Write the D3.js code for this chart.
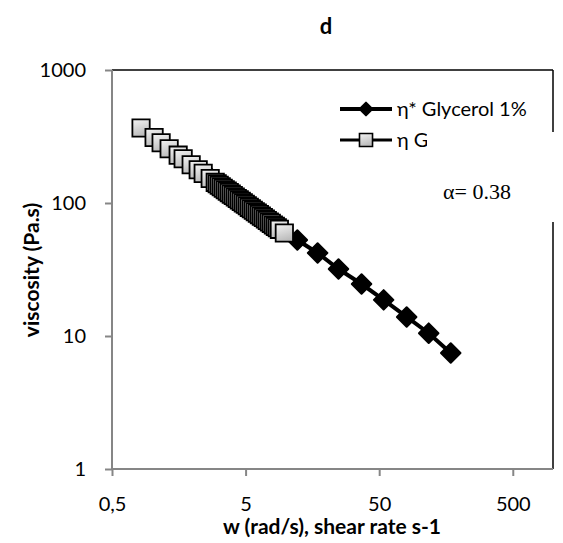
<!DOCTYPE html>
<html>
<head>
<meta charset="utf-8">
<script src="https://cdn.jsdelivr.net/npm/d3@7"></script>
<style>
  body { margin: 0; background: #fff; }
  svg text { font-family: Lato, "Noto Sans", sans-serif; }
</style>
</head>
<body>
<div id="chart-area"></div>
<script>
// eta* Glycerol 1% (black diamonds)
let diamondX = [2.63, 3.86, 5.66, 8.3, 12.2, 17.3, 24.8, 36.9, 54.0, 80.3, 117.4, 171.6];
let diamondY = [162, 122.6, 92.5, 69.9, 52.7, 42.1, 31.9, 24.6, 18.7, 13.9, 10.5, 7.45];

// eta Glycerol 1% (grey squares)
let squareX = [0.825, 1.033, 1.166, 1.339, 1.564, 1.705, 1.957, 2.209, 2.408, 2.717, 2.963,
    3.067, 3.175, 3.287, 3.402, 3.522, 3.646, 3.774, 3.906, 4.044, 4.186, 4.333, 4.485,
    4.643, 4.806, 4.975, 5.15, 5.33, 5.52, 5.71, 5.91, 6.12, 6.34, 6.56, 6.79, 7.03,
    7.27, 7.53, 7.79, 8.07, 8.35, 8.64, 8.95, 9.75];
let squareY = [366, 311, 284, 256, 229, 215, 194, 178, 167, 153, 143,
    139.5, 135.9, 132.6, 129.2, 125.9, 122.9, 119.7, 116.7, 113.9, 110.9, 108.1, 105.5,
    102.8, 100.2, 97.8, 95.3, 92.8, 90.6, 88.3, 86.0, 84.0, 81.8, 79.7, 77.8, 75.8,
    73.9, 72.0, 70.3, 68.4, 66.7, 65.1, 63.4, 59.5];

let xTicks = [0.5, 5, 50, 500];
let yTicks = [1, 10, 100, 1000];
let seriesNames = ["η* Glycerol 1%", "η Glycerol 1%"];

let W = 563, H = 543;
let margin = {top: 70, right: 10, bottom: 74, left: 112};
let width = W - margin.left - margin.right;
let height = H - margin.top - margin.bottom;

let svg = d3.select("#chart-area").append("svg")
    .attr("width", W)
    .attr("height", H);

let defs = svg.append("defs");
let grad = defs.append("linearGradient")
    .attr("id", "sqfill")
    .attr("x1", 0).attr("y1", 0).attr("x2", 0.3).attr("y2", 1);
grad.append("stop").attr("offset", "0%").attr("stop-color", "#f4f4f4");
grad.append("stop").attr("offset", "100%").attr("stop-color", "#bcbcbc");

let g = svg.append("g")
    .attr("transform", "translate(" + margin.left + "," + margin.top + ")");

let xScale = d3.scaleLog().domain([0.5, 1000]).range([0, width]);
let yScale = d3.scaleLog().domain([1, 1000]).range([height, 0]);

// top and right border
g.append("line").attr("x1", 0).attr("x2", width).attr("y1", 0).attr("y2", 0)
    .attr("stroke", "#000").attr("stroke-width", 1.5);
g.append("line").attr("x1", width).attr("x2", width).attr("y1", 0).attr("y2", height)
    .attr("stroke", "#000").attr("stroke-width", 1.5);

let xAxis = d3.axisBottom(xScale)
    .tickValues(xTicks)
    .tickSize(7)
    .tickPadding(21)
    .tickFormat(d => d === 0.5 ? "0,5" : d);

let yAxis = d3.axisLeft(yScale)
    .tickValues(yTicks)
    .tickSize(7)
    .tickPadding(19)
    .tickFormat(d3.format("d"));

let gx = g.append("g")
    .attr("transform", "translate(0," + height + ")")
    .call(xAxis);
let gy = g.append("g").call(yAxis);

[gx, gy].forEach(a => {
    a.select(".domain").attr("stroke", "#868686").attr("stroke-width", 2);
    a.selectAll(".tick line").attr("stroke", "#868686").attr("stroke-width", 2);
    a.selectAll(".tick text").attr("fill", "#000").style("font-size", "20px");
});
gx.select(".domain").attr("d", "M0,0H" + width);
gy.select(".domain").attr("d", "M0," + height + "V0");

let line = d3.line()
    .x(d => xScale(d[0]))
    .y(d => yScale(d[1]));

let diamonds = diamondX.map((x, i) => [x, diamondY[i]]);
let squares = squareX.map((x, i) => [x, squareY[i]]);

let diamondPath = d3.symbol().type(d3.symbolSquare).size(190)();
let squarePath = d3.symbol().type(d3.symbolSquare).size(300)();

// series 1: diamonds
g.append("path")
    .datum(diamonds)
    .attr("fill", "none")
    .attr("stroke", "#000")
    .attr("stroke-width", 4)
    .attr("d", line);

g.selectAll(".dia")
    .data(diamonds)
    .enter().append("path")
    .attr("class", "dia")
    .attr("d", diamondPath)
    .attr("transform", d => "translate(" + xScale(d[0]) + "," + yScale(d[1]) + ") rotate(45)")
    .attr("fill", "#000")
    .attr("stroke", "#000")
    .attr("stroke-width", 2)
    .attr("stroke-linejoin", "round");

// series 2: squares
g.append("path")
    .datum(squares)
    .attr("fill", "none")
    .attr("stroke", "#000")
    .attr("stroke-width", 3)
    .attr("d", line);

g.selectAll(".sq")
    .data(squares)
    .enter().append("path")
    .attr("class", "sq")
    .attr("d", squarePath)
    .attr("transform", d => "translate(" + xScale(d[0]) + "," + yScale(d[1]) + ")")
    .attr("fill", "url(#sqfill)")
    .attr("stroke", "#000")
    .attr("stroke-width", 1.8);

// legend
let legend = svg.append("g").attr("transform", "translate(340,109)");
legend.append("line").attr("x1", 0).attr("x2", 52).attr("y1", 0).attr("y2", 0)
    .attr("stroke", "#000").attr("stroke-width", 4);
legend.append("path")
    .attr("d", d3.symbol().type(d3.symbolSquare).size(80)())
    .attr("transform", "translate(26,0) rotate(45)")
    .attr("fill", "#000").attr("stroke", "#000").attr("stroke-width", 2)
    .attr("stroke-linejoin", "round");
legend.append("text").attr("x", 57).attr("y", 6.5)
    .style("font-size", "20px").text(seriesNames[0]);

legend.append("line").attr("x1", 0).attr("x2", 52).attr("y1", 31).attr("y2", 31)
    .attr("stroke", "#000").attr("stroke-width", 3);
legend.append("path")
    .attr("d", d3.symbol().type(d3.symbolSquare).size(170)())
    .attr("transform", "translate(26,31)")
    .attr("fill", "url(#sqfill)").attr("stroke", "#000").attr("stroke-width", 1.6);
legend.append("text").attr("x", 57).attr("y", 37.5)
    .style("font-size", "20px").text(seriesNames[1]);

// white box with exponent
svg.append("rect")
    .attr("x", 427).attr("y", 132).attr("width", 130).attr("height", 90)
    .attr("fill", "#fff");
svg.append("text")
    .attr("x", 443).attr("y", 199)
    .style("font-family", "'Liberation Serif', 'Times New Roman', serif")
    .style("font-size", "22px")
    .text("α= 0.38");

// title
svg.append("text")
    .attr("x", 326).attr("y", 34)
    .attr("text-anchor", "middle")
    .style("font-size", "22px")
    .style("font-weight", "bold")
    .text("d");

// axis labels
svg.append("text")
    .attr("x", 332).attr("y", 534)
    .attr("text-anchor", "middle")
    .style("font-size", "21px")
    .style("font-weight", "bold")
    .text("w (rad/s), shear rate s-1");

svg.append("text")
    .attr("transform", "translate(39,270) rotate(-90)")
    .attr("text-anchor", "middle")
    .style("font-size", "21px")
    .style("font-weight", "bold")
    .text("viscosity (Pa.s)");
</script>
</body>
</html>
